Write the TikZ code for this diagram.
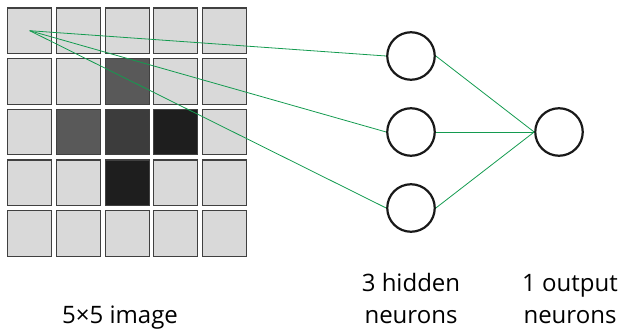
\documentclass[tikz,border=0pt]{standalone}
\usepackage{fontspec}
\setmainfont{Open Sans}
\usepackage{xcolor}

\definecolor{pxl}{RGB}{217,217,217}
\definecolor{pxg}{RGB}{89,89,89}
\definecolor{pxm}{RGB}{60,60,60}
\definecolor{pxd}{RGB}{30,30,30}
\definecolor{wire}{RGB}{20,155,80}

\begin{document}
\begin{tikzpicture}[x=1pt,y=-1pt,
      pixel/.style={draw=black!75, line width=1.2pt, minimum width=44pt, minimum height=45.5pt, inner sep=0pt},
      neuron/.style={draw=black!90, circle, line width=2.2pt, minimum size=47.5pt, inner sep=0pt},
      caption/.style={font=\fontsize{24}{32}\selectfont, align=center, anchor=base, inner sep=0pt}]
      \useasboundingbox (0,0) rectangle (624,329);

      \foreach \shades [count=\r] in {{l,l,l,l,l},{l,l,g,l,l},{l,g,m,d,l},{l,l,d,l,l},{l,l,l,l,l}}
         \foreach \s [count=\c] in \shades
            \node[pixel, fill=px\s, name=p\r\c] at ({29.7+48.7*(\c-1)},{30.7+50.7*(\r-1)}) {};

      \node[neuron, name=h1] at (411,56) {};
      \node[neuron, name=h2, below of=h1, node distance=76pt] {};
      \node[neuron, name=h3, below of=h2, node distance=76pt] {};
      \node[neuron, name=out, right of=h2, node distance=148pt] {};

      \node[caption, name=imglabel] at (120,323) {5×5 image};
      \node[caption, name=hidlabel] at (411,323) {3 hidden\\neurons};
      \node[caption, name=outlabel] at (570,323) {1 output\\neurons};

      \path[-, draw=wire, line width=0.8pt]
         (p11.center) edge (h1.west)
         (p11.center) edge (h2.west)
         (p11.center) edge (h3.west)
         (h1.east) edge (out.west)
         (h2.east) edge (out.west)
         (h3.east) edge (out.west);
   \end{tikzpicture}
\end{document}
